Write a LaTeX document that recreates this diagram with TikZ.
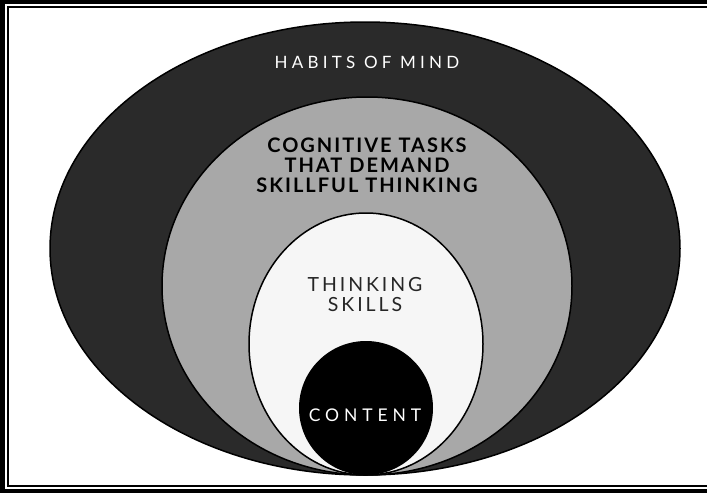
\documentclass[tikz,border=0pt]{standalone}
\usepackage{fontspec}
\setmainfont{Lato}
\newfontfamily\habitsfont[LetterSpace=25]{Lato}
\newfontfamily\tasksfont[LetterSpace=10]{Lato}
\newfontfamily\skillsfont[LetterSpace=15]{Lato}
\newfontfamily\contentfont[LetterSpace=28]{Lato}
\definecolor{darkring}{HTML}{2A2A2A}
\definecolor{grayring}{HTML}{A8A8A8}
\definecolor{whitering}{HTML}{F6F6F6}
\begin{document}
\begin{tikzpicture}[x=1pt,y=-1pt,
  ring/.style={draw=black,line width=1.5pt},
  lab/.style={inner sep=0pt,align=center}]
\useasboundingbox (0,0) rectangle (707,493);
\fill[white] (0,0) rectangle (707,493);
% frame
\draw[line width=4.5pt] (707,2) -- (2.5,2) -- (2.5,491) -- (707,491);
\draw[line width=1.8pt] (707,7) -- (8,7) -- (8,486) -- (707,486);
% rings
\draw[ring,fill=darkring] (365,248.5) ellipse [x radius=315pt,y radius=226.5pt];
\draw[ring,fill=grayring] (367,286) ellipse [x radius=205pt,y radius=189pt];
\draw[ring,fill=whitering] (366,344) ellipse [x radius=117pt,y radius=131pt];
\fill[black] (366,408) circle [radius=67pt];
% labels
\node[lab,text=white,font=\habitsfont\fontsize{17}{18}\selectfont] (habits) at (367,62) {HABITS OF MIND};
\node[lab,text=black,font=\tasksfont\bfseries\fontsize{20}{20}\selectfont] (tasks) at (367,165) {COGNITIVE TASKS\\THAT DEMAND\\SKILLFUL THINKING};
\node[lab,text=black!85,font=\skillsfont\fontsize{19.5}{20}\selectfont] (skills) at (365,295) {THINKING\\SKILLS};
\node[lab,text=white,font=\contentfont\fontsize{17.5}{18}\selectfont] (content) at (365,415) {CONTENT};
\end{tikzpicture}
\end{document}
